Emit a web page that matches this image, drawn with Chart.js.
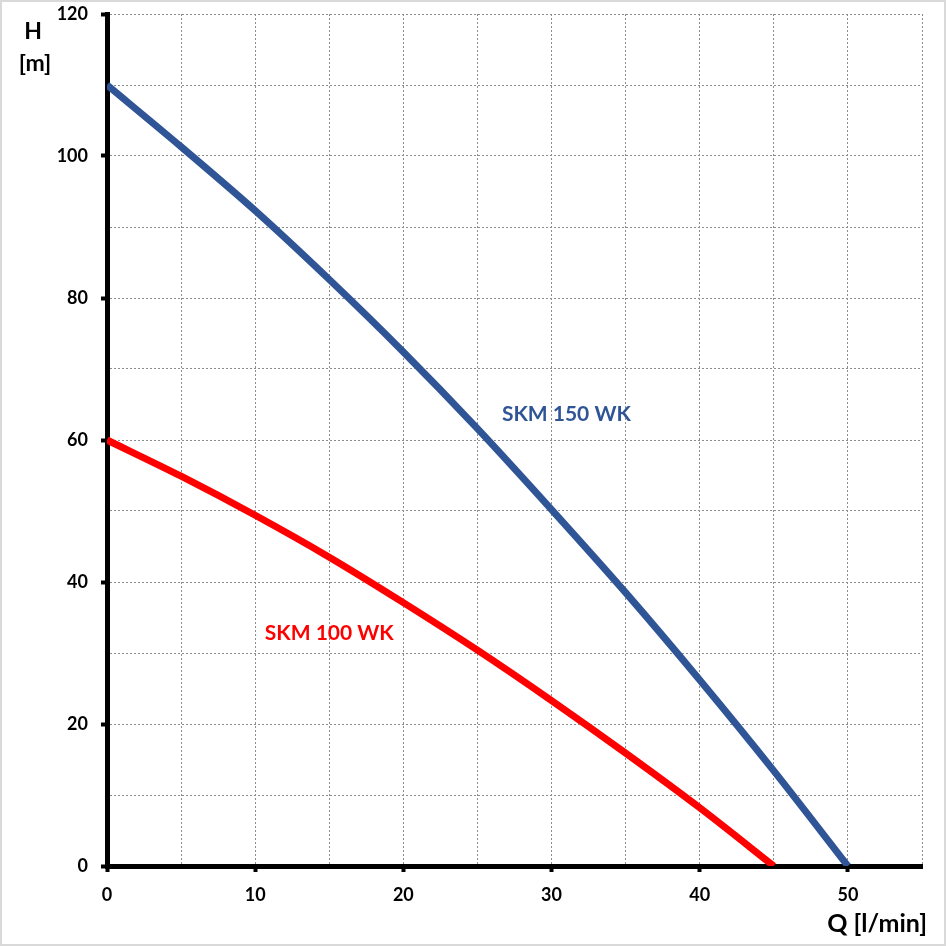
<!DOCTYPE html>
<html>
<head>
<meta charset="utf-8">
<title>SKM WK - H(Q)</title>
<script src="https://cdn.jsdelivr.net/npm/chart.js@4.4.1/dist/chart.umd.min.js"></script>
<style>
  html, body { margin: 0; padding: 0; background: #fff; }
  #wykres { display: block; }
</style>
</head>
<body>
<canvas id="wykres" width="946" height="946"></canvas>
<script>
// przeplyw Q [l/min]
const przeplyw = [0, 5, 10, 15, 20, 25, 30, 35, 40, 45, 50];
// wysokosc podnoszenia H [m]
const hSkm150 = [110, 101.3, 92.3, 82.6, 72.4, 61.6, 50.2, 38.5, 26.2, 13.4, 0];
const hSkm100 = [60, 54.9, 49.4, 43.5, 37.1, 30.4, 23.3, 15.9, 8.2, 0];

const nazwy = ['SKM 150 WK', 'SKM 100 WK'];
const kolory = ['#2F5597', '#FF0000'];
// polozenie etykiet serii w jednostkach osi [Q, H]
const etykietyPoz = [[31.0, 63.6], [15.0, 32.8]];

const xMax = 55, xKrok = 5, xEtykieta = 10;
const yMax = 120, yKrok = 10, yEtykieta = 20;

const punkty = (h) => h.map((v, i) => ({ x: przeplyw[i], y: v }));

const czcionka = 'Lato, "Open Sans", sans-serif';

const ramka = {
    id: 'ramka',
    beforeDraw(chart) {
        const ctx = chart.ctx;
        ctx.save();
        ctx.fillStyle = '#fff';
        ctx.fillRect(0, 0, chart.width, chart.height);
        ctx.strokeStyle = '#d9d9d9';
        ctx.lineWidth = 2;
        ctx.strokeRect(1, 1, chart.width - 2, chart.height - 2);
        ctx.restore();
    }
};

const napisy = {
    id: 'napisy',
    afterDraw(chart) {
        const { ctx, chartArea, scales } = chart;
        ctx.save();
        ctx.fillStyle = '#000';
        ctx.textAlign = 'center';
        ctx.textBaseline = 'middle';
        ctx.font = 'bold 23px ' + czcionka;
        ctx.fillText('H', chartArea.left - 74, chartArea.top + 18);
        ctx.fillText('[m]', chartArea.left - 72, chartArea.top + 50);
        ctx.textAlign = 'right';
        ctx.font = 'bold 25px ' + czcionka;
        ctx.fillText('Q [l/min]', chartArea.right + 5, chartArea.bottom + 58);

        ctx.textAlign = 'center';
        ctx.font = 'bold 21px ' + czcionka;
        nazwy.forEach((n, i) => {
            ctx.fillStyle = kolory[i];
            ctx.fillText(n, scales.x.getPixelForValue(etykietyPoz[i][0]),
                scales.y.getPixelForValue(etykietyPoz[i][1]));
        });
        ctx.restore();
    }
};

const wykres = new Chart(document.getElementById('wykres').getContext('2d'), {
    type: 'line',
    data: {
        datasets: [
            { label: nazwy[0], data: punkty(hSkm150), borderColor: kolory[0], borderWidth: 7 },
            { label: nazwy[1], data: punkty(hSkm100), borderColor: kolory[1], borderWidth: 7 }
        ]
    },
    options: {
        responsive: false,
        animation: false,
        devicePixelRatio: 1,
        layout: { padding: { top: 14, right: 24, left: 0, bottom: 0 } },
        elements: {
            point: { radius: 0 },
            line: { tension: 0.3, borderCapStyle: 'butt' }
        },
        plugins: {
            legend: { display: false },
            tooltip: { enabled: false }
        },
        scales: {
            x: {
                type: 'linear',
                min: 0,
                max: xMax,
                afterFit: (s) => { s.height = 80; s.paddingLeft = 0; s.paddingRight = 0; },
                ticks: {
                    stepSize: xKrok,
                    autoSkip: false,
                    maxRotation: 0,
                    padding: 12,
                    color: '#000',
                    font: { family: czcionka, size: 18, weight: 'bold' },
                    callback: (v) => (v % xEtykieta === 0 && v < xMax ? v : '')
                },
                grid: {
                    color: '#8c8c8c',
                    lineWidth: 1,
                    tickLength: 6,
                    tickWidth: 4,
                    tickColor: (c) => (c.tick && c.tick.value % xEtykieta === 0 && c.tick.value < xMax ? '#000' : 'rgba(0,0,0,0)')
                },
                border: { color: '#000', width: 5, dash: [2, 2] }
            },
            y: {
                min: 0,
                max: yMax,
                afterFit: (s) => { s.width = 107; s.paddingTop = 0; s.paddingBottom = 0; },
                ticks: {
                    stepSize: yKrok,
                    padding: 13,
                    color: '#000',
                    font: { family: czcionka, size: 18, weight: 'bold' },
                    callback: (v) => (v % yEtykieta === 0 ? v : '')
                },
                grid: {
                    color: '#8c8c8c',
                    lineWidth: 1,
                    tickLength: 6,
                    tickWidth: 4,
                    tickColor: (c) => (c.tick && c.tick.value % yEtykieta === 0 ? '#000' : 'rgba(0,0,0,0)')
                },
                border: { color: '#000', width: 5, dash: [2, 2] }
            }
        }
    },
    plugins: [ramka, napisy]
});
</script>
</body>
</html>
